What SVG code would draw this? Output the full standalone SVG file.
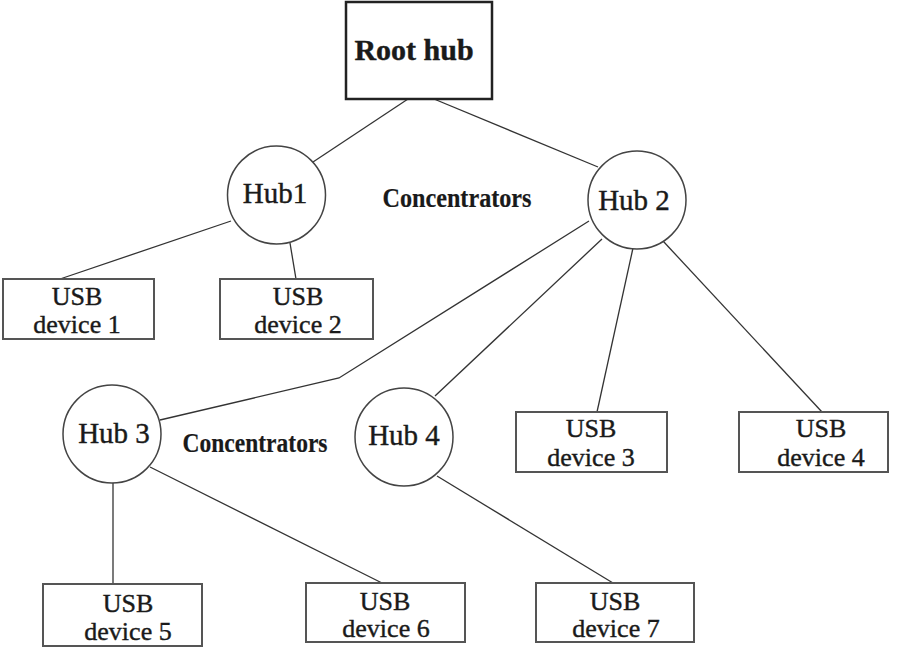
<svg xmlns="http://www.w3.org/2000/svg" width="900" height="647" viewBox="0 0 900 647">
<style>
.box{fill:#fff;stroke:#555;stroke-width:2}
.root{fill:#fff;stroke:#222;stroke-width:2.5}
.hub{fill:#fff;stroke:#444;stroke-width:1.5}
.ln{fill:none;stroke:#333;stroke-width:1.3}
text{font-family:"Liberation Serif","Times New Roman",serif;fill:#1a1a1a;stroke:#1a1a1a;stroke-width:0.4;text-anchor:middle}
.t{font-size:26px}
.h{font-size:29px}
.c{font-size:28px;font-weight:bold;stroke-width:0.2}
</style>
<rect width="900" height="647" fill="#fff"/>
<g id="connectors">
<line class="ln" x1="408" y1="99" x2="313" y2="162"/>
<line class="ln" x1="434" y1="99" x2="598" y2="167"/>
<line class="ln" x1="231" y1="221" x2="60" y2="279"/>
<line class="ln" x1="290" y1="243" x2="296" y2="279"/>
<polyline class="ln" points="589,221 339,378 160,420"/>
<line class="ln" x1="602" y1="239" x2="435" y2="396"/>
<line class="ln" x1="633" y1="248" x2="597" y2="412"/>
<line class="ln" x1="663" y1="241" x2="822" y2="412"/>
<line class="ln" x1="113" y1="483" x2="113" y2="584"/>
<line class="ln" x1="150" y1="467" x2="382" y2="583"/>
<line class="ln" x1="437" y1="476" x2="613" y2="583"/>
</g>
<g id="root-hub">
<rect class="root" x="346" y="2" width="146" height="97"/>
<text x="414" y="60" style="font-size:30px;font-weight:bold">Root hub</text>
</g>
<g id="hub1">
<circle class="hub" cx="276.5" cy="195" r="49"/>
<text class="h" x="275" y="203">Hub1</text>
</g>
<g id="hub2">
<circle class="hub" cx="637" cy="200" r="49"/>
<text class="h" x="634" y="210">Hub 2</text>
</g>
<g id="hub3">
<circle class="hub" cx="112" cy="434" r="49"/>
<text class="h" x="114" y="443">Hub 3</text>
</g>
<g id="hub4">
<circle class="hub" cx="404" cy="437" r="49"/>
<text class="h" x="404" y="445">Hub 4</text>
</g>
<g id="label-concentrators-1">
<text class="c" x="457" y="207" textLength="149" lengthAdjust="spacingAndGlyphs">Concentrators</text>
</g>
<g id="label-concentrators-2">
<text class="c" x="255" y="452" textLength="145" lengthAdjust="spacingAndGlyphs">Concentrators</text>
</g>
<g id="usb-device-1">
<rect class="box" x="3" y="279" width="151" height="60"/>
<text class="t" x="77" y="305">USB</text>
<text class="t" x="77" y="333">device 1</text>
</g>
<g id="usb-device-2">
<rect class="box" x="220" y="279" width="153" height="60"/>
<text class="t" x="298" y="305">USB</text>
<text class="t" x="298" y="333">device 2</text>
</g>
<g id="usb-device-3">
<rect class="box" x="516" y="412" width="151" height="60"/>
<text class="t" x="591" y="437">USB</text>
<text class="t" x="591" y="466">device 3</text>
</g>
<g id="usb-device-4">
<rect class="box" x="739" y="412" width="149" height="60"/>
<text class="t" x="821" y="437">USB</text>
<text class="t" x="821" y="466">device 4</text>
</g>
<g id="usb-device-5">
<rect class="box" x="43" y="584" width="159" height="62"/>
<text class="t" x="128" y="612">USB</text>
<text class="t" x="128" y="640">device 5</text>
</g>
<g id="usb-device-6">
<rect class="box" x="306" y="583" width="159" height="59"/>
<text class="t" x="385" y="610">USB</text>
<text class="t" x="386" y="637">device 6</text>
</g>
<g id="usb-device-7">
<rect class="box" x="536" y="583" width="158" height="59"/>
<text class="t" x="615" y="610">USB</text>
<text class="t" x="616" y="637">device 7</text>
</g>
</svg>
